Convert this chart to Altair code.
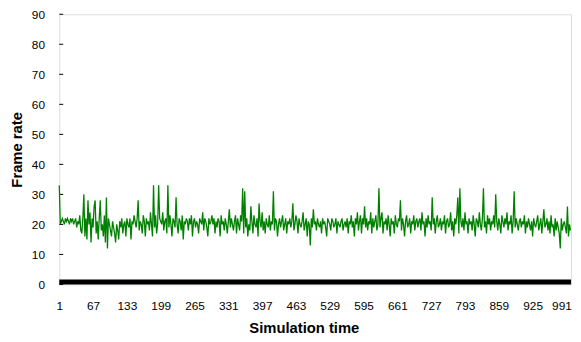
import altair as alt
import pandas as pd

# Frame rate (one value every 2 simulation steps)
frame_rate = [
    33, 20, 21, 22, 21, 20, 22, 21, 22, 21, 20, 22, 21, 22, 20, 21, 22, 19, 21, 20, 23, 18, 17, 22, 30,
    16, 22, 15, 28, 20, 24, 14, 22, 19, 26, 28, 17, 21, 15, 22, 28, 18, 20, 16, 23, 14, 29, 12, 22, 20,
    18, 16, 21, 19, 17, 14, 20, 18, 15, 21, 19, 22, 17, 20, 21, 16, 22, 20, 19, 22, 15, 21, 20, 23, 21,
    19, 22, 28, 18, 21, 20, 17, 23, 21, 16, 22, 20, 21, 18, 24, 20, 16, 33, 19, 23, 17, 20, 33, 22, 21,
    20, 24, 18, 21, 22, 17, 33, 19, 23, 20, 16, 22, 21, 19, 29, 20, 17, 22, 21, 18, 23, 15, 21, 20, 22,
    21, 18, 22, 20, 23, 16, 21, 22, 19, 21, 20, 17, 22, 21, 20, 24, 18, 22, 21, 19, 16, 22, 20, 21, 23,
    20, 22, 17, 21, 19, 22, 21, 16, 23, 20, 21, 18, 22, 20, 17, 21, 25, 19, 22, 20, 18, 21, 23, 17, 22,
    20, 18, 23, 21, 32, 17, 31, 19, 22, 16, 20, 18, 26, 21, 17, 23, 20, 19, 22, 16, 27, 21, 19, 24, 18,
    21, 17, 22, 20, 19, 23, 18, 21, 20, 31, 18, 22, 21, 16, 20, 22, 19, 21, 23, 18, 20, 22, 17, 21, 20,
    22, 19, 21, 27, 18, 20, 23, 21, 17, 22, 20, 19, 21, 24, 18, 20, 22, 16, 21, 20, 13, 22, 19, 25, 20,
    21, 18, 22, 20, 19, 21, 17, 22, 20, 21, 19, 16, 22, 21, 20, 18, 22, 21, 19, 20, 22, 17, 21, 20, 19,
    21, 22, 18, 20, 21, 19, 22, 17, 21, 20, 23, 19, 21, 16, 22, 20, 24, 18, 21, 23, 17, 22, 20, 26, 19,
    22, 18, 21, 20, 24, 17, 22, 19, 21, 23, 18, 20, 32, 19, 22, 24, 17, 21, 20, 22, 18, 23, 20, 16, 22,
    20, 21, 17, 23, 20, 19, 22, 21, 28, 18, 22, 20, 16, 21, 23, 19, 20, 22, 17, 21, 20, 23, 18, 21, 22,
    19, 21, 22, 18, 24, 20, 21, 16, 22, 19, 23, 20, 21, 18, 29, 20, 22, 17, 21, 23, 19, 20, 22, 18, 21,
    20, 23, 17, 21, 22, 19, 20, 24, 18, 21, 16, 22, 20, 23, 29, 17, 32, 21, 19, 22, 18, 24, 20, 21, 17,
    22, 20, 21, 18, 23, 20, 16, 22, 21, 19, 24, 20, 18, 22, 32, 19, 21, 17, 23, 20, 22, 18, 21, 20, 23,
    19, 30, 21, 18, 22, 20, 17, 23, 21, 19, 22, 20, 24, 18, 21, 20, 23, 17, 21, 31, 19, 22, 20, 18, 21,
    22, 19, 21, 20, 23, 17, 21, 19, 22, 20, 18, 21, 16, 22, 20, 19, 21, 23, 18, 20, 22, 17, 21, 25, 19,
    20, 22, 18, 21, 17, 23, 19, 20, 16, 22, 18, 21, 19, 17, 12, 22, 18, 20, 21, 19, 17, 26, 16, 20, 18,
]
time_step = 2
times = [1 + time_step * i for i in range(len(frame_rate))]

x_labels = [1, 67, 133, 199, 265, 331, 397, 463, 529, 595, 661, 727, 793, 859, 925, 991]
y_ticks = [0, 10, 20, 30, 40, 50, 60, 70, 80, 90]

# thick black series lying along the bottom
base_times = [1, 1000]
base_values = [0.8, 0.8]

df = pd.DataFrame({"t": times, "fps": frame_rate})
df_base = pd.DataFrame({"t": base_times, "fps": base_values})
df_ticks = pd.DataFrame({"fps": y_ticks})

xscale = alt.Scale(domain=[1, 1000], nice=False, zero=False)
yscale = alt.Scale(domain=[0, 90], nice=False)

x_axis = alt.Axis(values=x_labels, title="Simulation time", ticks=False, domain=False,
                  grid=False, labelPadding=16, labelFontSize=12, labelFlush=False,
                  labelBound=False, labelOverlap=False, labelColor="#000",
                  labelOffset={"condition": {"test": "datum.value == 991", "value": -5},
                               "value": 0},
                  titleFontSize=15, titleFontWeight="bold", titleColor="#000",
                  titleX=248, titleY=44, titleBaseline="middle")
y_axis = alt.Axis(values=y_ticks, title="Frame rate", ticks=False, domain=False,
                  grid=False, labelPadding=15, labelFontSize=12, labelColor="#000",
                  titleFontSize=15, titleFontWeight="bold", titleColor="#000",
                  titleX=-43, titleY=137, titleBaseline="middle", titleAlign="center")

band = alt.Chart(df_base).mark_line(color="#000", strokeWidth=5, strokeCap="butt").encode(
    x=alt.X("t:Q", scale=xscale, axis=x_axis),
    y=alt.Y("fps:Q", scale=yscale, axis=y_axis),
)

ticks = alt.Chart(df_ticks).mark_rule(color="#000", strokeWidth=1).encode(
    x=alt.value(0), x2=alt.value(4),
    y=alt.Y("fps:Q", scale=yscale, axis=y_axis),
)

line = alt.Chart(df).mark_line(color="#008000", strokeWidth=1.3).encode(
    x=alt.X("t:Q", scale=xscale, axis=x_axis),
    y=alt.Y("fps:Q", scale=yscale, axis=y_axis),
)

chart = alt.layer(band, ticks, line).properties(
    width=519, height=274,
    autosize="none",
    padding={"left": 52, "top": 4, "right": 2, "bottom": 56},
).configure_view(
    stroke="#000", strokeWidth=1
).configure(
    font="Liberation Sans", background="white"
)

chart.save("out.html", embed_options={"renderer": "svg", "actions": False})
